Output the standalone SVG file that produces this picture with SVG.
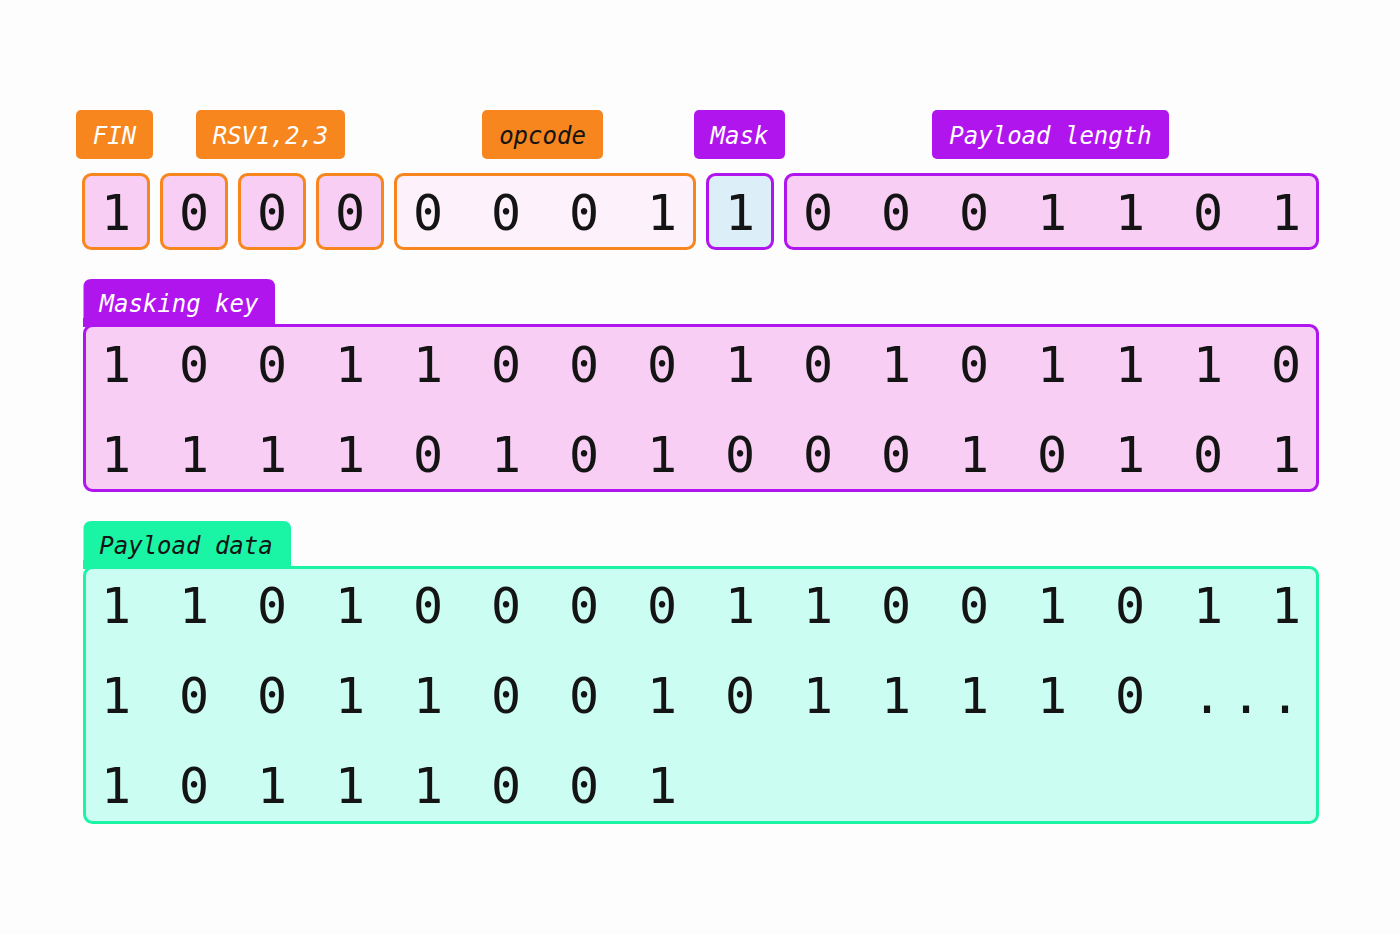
<svg xmlns="http://www.w3.org/2000/svg" width="1400" height="934" viewBox="0 0 1400 934">
<style>
.lbl{font-family:"DejaVu Sans Mono","Liberation Mono",monospace;font-size:24px;font-style:italic;font-weight:normal;text-anchor:middle}
.bit{font-family:"DejaVu Sans Mono","Liberation Mono",monospace;font-size:50px;fill:#141414;text-anchor:middle}
.w{fill:#ffffff}
.k{fill:#141414}
.or{fill:#F7861F}
.pu{fill:#B015EE}
.obox{stroke:#F7861F;stroke-width:3;fill:#F9CEF4}
.pbox{stroke:#B015EE;stroke-width:3}
</style>
<rect x="0" y="0" width="1400" height="934" fill="#FEFDFD"/>
<g id="label-fin"><rect class="or" x="76" y="110" width="77" height="49" rx="5"/><text class="lbl w" x="114.5" y="144">FIN</text></g>
<g id="label-rsv"><rect class="or" x="196" y="110" width="149" height="49" rx="5"/><text class="lbl w" x="270.5" y="144">RSV1,2,3</text></g>
<g id="label-opcode"><rect class="or" x="482" y="110" width="121" height="49" rx="5"/><text class="lbl k" x="542.5" y="144">opcode</text></g>
<g id="label-mask"><rect class="pu" x="694" y="110" width="91" height="49" rx="5"/><text class="lbl w" x="739.5" y="144">Mask</text></g>
<g id="label-plen"><rect class="pu" x="932" y="110" width="237" height="49" rx="5"/><text class="lbl w" x="1050.5" y="144">Payload length</text></g>

<g id="bit-fin"><rect class="obox" x="83.5" y="174.5" width="65" height="74" rx="8"/><text class="bit" x="116" y="230">1</text></g>
<g id="bit-rsv1"><rect class="obox" x="161.5" y="174.5" width="65" height="74" rx="8"/><text class="bit" x="194" y="230">0</text></g>
<g id="bit-rsv2"><rect class="obox" x="239.5" y="174.5" width="65" height="74" rx="8"/><text class="bit" x="272" y="230">0</text></g>
<g id="bit-rsv3"><rect class="obox" x="317.5" y="174.5" width="65" height="74" rx="8"/><text class="bit" x="350" y="230">0</text></g>
<g id="bits-opcode"><rect x="395.5" y="174.5" width="299" height="74" rx="8" fill="#FDF1FB" stroke="#F7861F" stroke-width="3"/><text class="bit" x="428 506 584 662" y="230">0001</text></g>
<g id="bit-mask"><rect class="pbox" x="707.5" y="174.5" width="65" height="74" rx="8" fill="#DCEEF7"/><text class="bit" x="740" y="230">1</text></g>
<g id="bits-plen"><rect class="pbox" x="785.5" y="174.5" width="532" height="74" rx="8" fill="#F9CEF4"/><text class="bit" x="818 896 974 1052 1130 1208 1286" y="230">0001101</text></g>

<g id="masking-key">
<path d="M83.5 325 V287 Q83.5 279 91.5 279 H267 Q275 279 275 287 V325 Z" fill="#B015EE"/>
<rect class="pbox" x="84.5" y="325.5" width="1233" height="165" rx="8" fill="#F9CEF4"/>
<rect x="83" y="318" width="192" height="9" fill="#B015EE"/>
<text class="lbl w" x="179" y="312">Masking key</text>
<text class="bit" x="116 194 272 350 428 506 584 662 740 818 896 974 1052 1130 1208 1286" y="382">1001100010101110</text>
<text class="bit" x="116 194 272 350 428 506 584 662 740 818 896 974 1052 1130 1208 1286" y="472">1111010100010101</text>
</g>

<g id="payload-data">
<path d="M83.5 567 V529 Q83.5 521 91.5 521 H283 Q291 521 291 529 V567 Z" fill="#1AF5A5"/>
<rect x="84.5" y="567.5" width="1233" height="255" rx="8" fill="#CCFDF3" stroke="#1AF5A5" stroke-width="3"/>
<rect x="83" y="560" width="208" height="9" fill="#1AF5A5"/>
<text class="lbl k" x="186" y="554">Payload data</text>
<text class="bit" x="116 194 272 350 428 506 584 662 740 818 896 974 1052 1130 1208 1286" y="623">1101000011001011</text>
<text class="bit" x="116 194 272 350 428 506 584 662 740 818 896 974 1052 1130" y="713">10011001011110</text>
<text class="bit" x="1207 1246 1285" y="713">...</text>
<text class="bit" x="116 194 272 350 428 506 584 662" y="803">10111001</text>
</g>
<g id="connectors"/>
</svg>
